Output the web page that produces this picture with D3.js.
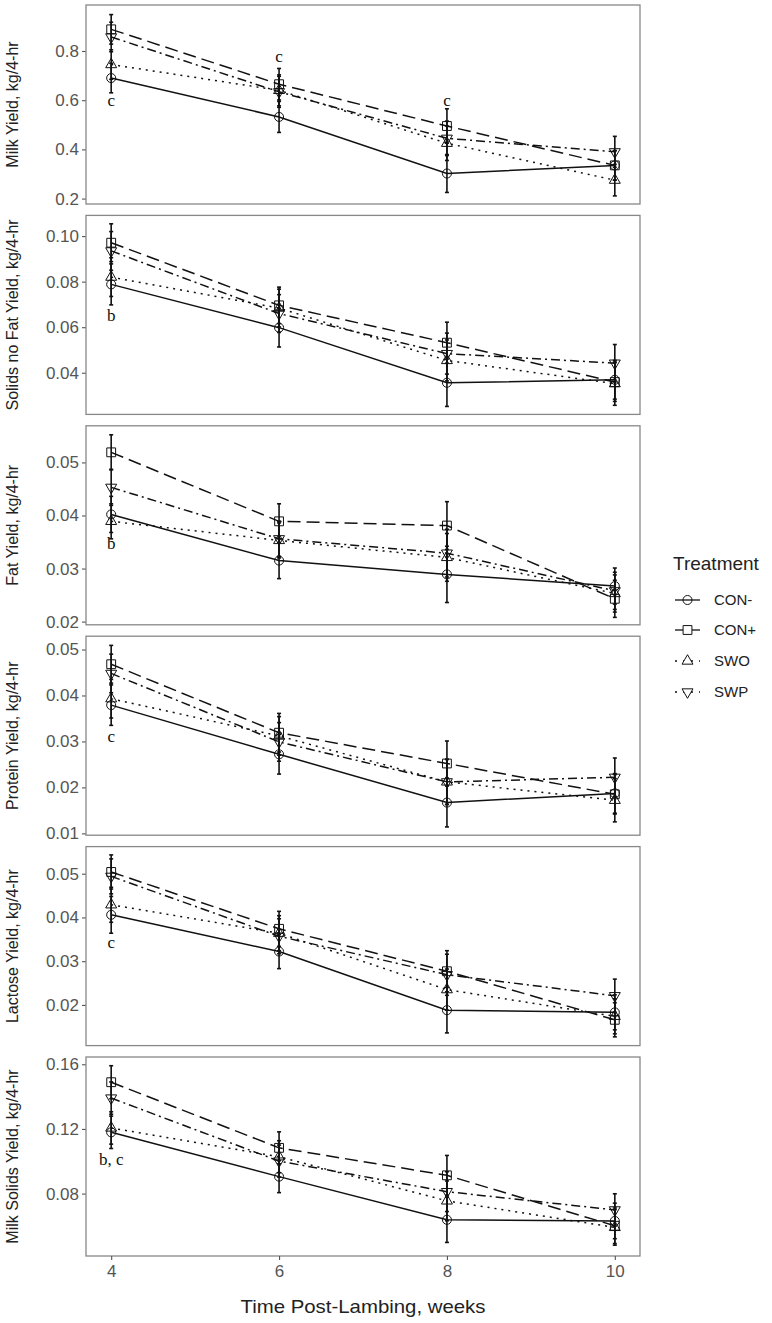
<!DOCTYPE html>
<html>
<head>
<meta charset="utf-8">
<script src="https://cdn.jsdelivr.net/npm/d3@7"></script>
<style>
  body { margin: 0; background: #fff; }
  svg { display: block; }
</style>
</head>
<body>
<div id="chart"></div>
<script>
var weeks = [4, 6, 8, 10];
var treatments = ["CON-", "CON+", "SWO", "SWP"];

// one row per treatment: CON-, CON+, SWO, SWP
var milkYield    = [[0.690, 0.532, 0.302, 0.335], [0.888, 0.665, 0.495, 0.335], [0.745, 0.640, 0.425, 0.275], [0.857, 0.634, 0.445, 0.390]];
var milkYieldSE  = [[0.060, 0.063, 0.077, 0.060], [0.060, 0.064, 0.070, 0.060], [0.060, 0.063, 0.070, 0.064], [0.060, 0.063, 0.070, 0.063]];
var snfYield     = [[0.0788, 0.0598, 0.0356, 0.0369], [0.0971, 0.0696, 0.0532, 0.0359], [0.0820, 0.0684, 0.0454, 0.0352], [0.0935, 0.0660, 0.0484, 0.0442]];
var snfYieldSE   = [[0.0090, 0.0085, 0.0104, 0.0085], [0.0083, 0.0080, 0.0090, 0.0085], [0.0085, 0.0083, 0.0090, 0.0095], [0.0085, 0.0083, 0.0090, 0.0082]];
var fatYield     = [[0.0402, 0.0315, 0.0289, 0.0267], [0.0519, 0.0389, 0.0381, 0.0243], [0.0389, 0.0353, 0.0321, 0.0253], [0.0453, 0.0356, 0.0329, 0.0258]];
var fatYieldSE   = [[0.0034, 0.0034, 0.0053, 0.0034], [0.0033, 0.0033, 0.0045, 0.0035], [0.0033, 0.0033, 0.0045, 0.0035], [0.0034, 0.0033, 0.0045, 0.0035]];
var proteinYield   = [[0.0379, 0.0272, 0.0167, 0.0187], [0.0468, 0.0319, 0.0252, 0.0185], [0.0393, 0.0312, 0.0212, 0.0172], [0.0448, 0.0299, 0.0212, 0.0222]];
var proteinYieldSE = [[0.0044, 0.0043, 0.0053, 0.0043], [0.0041, 0.0042, 0.0049, 0.0043], [0.0042, 0.0042, 0.0049, 0.0047], [0.0042, 0.0042, 0.0049, 0.0042]];
var lactoseYield   = [[0.0406, 0.0322, 0.0188, 0.0183], [0.0504, 0.0374, 0.0277, 0.0166], [0.0429, 0.0364, 0.0235, 0.0174], [0.0494, 0.0357, 0.0269, 0.0221]];
var lactoseYieldSE = [[0.0042, 0.0039, 0.0052, 0.0040], [0.0039, 0.0040, 0.0047, 0.0039], [0.0040, 0.0040, 0.0047, 0.0040], [0.0040, 0.0040, 0.0047, 0.0038]];
var solidsYield    = [[0.1179, 0.0905, 0.0638, 0.0631], [0.1489, 0.1083, 0.0913, 0.0601], [0.1206, 0.1028, 0.0755, 0.0591], [0.1391, 0.1001, 0.0812, 0.0699]];
var solidsYieldSE  = [[0.0100, 0.0099, 0.0140, 0.0110], [0.0102, 0.0099, 0.0123, 0.0110], [0.0100, 0.0099, 0.0123, 0.0110], [0.0100, 0.0099, 0.0123, 0.0100]];

var panelTitles = ["Milk Yield, kg/4-hr", "Solids no Fat Yield, kg/4-hr", "Fat Yield, kg/4-hr",
                   "Protein Yield, kg/4-hr", "Lactose Yield, kg/4-hr", "Milk Solids Yield, kg/4-hr"];
var panelMeans = [milkYield, snfYield, fatYield, proteinYield, lactoseYield, solidsYield];
var panelSE = [milkYieldSE, snfYieldSE, fatYieldSE, proteinYieldSE, lactoseYieldSE, solidsYieldSE];
var panelDomains = [[0.178, 0.987], [0.0217, 0.1091], [0.0194, 0.0569], [0.0096, 0.0529], [0.0107, 0.0562], [0.0414, 0.1645]];
var panelTicks = [[0.2, 0.4, 0.6, 0.8], [0.04, 0.06, 0.08, 0.10], [0.02, 0.03, 0.04, 0.05],
                  [0.01, 0.02, 0.03, 0.04, 0.05], [0.02, 0.03, 0.04, 0.05], [0.08, 0.12, 0.16]];
var panelTickFormat = [".1f", ".2f", ".2f", ".2f", ".2f", ".2f"];

// significance letters: panel index, week, y value, label
var letterPanel = [0, 0, 0, 1, 2, 3, 4, 5];
var letterWeek  = [4, 6, 8, 4, 4, 4, 4, 4];
var letterValue = [0.600, 0.779, 0.600, 0.0652, 0.0348, 0.0310, 0.0342, 0.1011];
var letterText  = ["c", "c", "c", "b", "b", "c", "c", "b, c"];

var W = 772, H = 1323;
var left = 86, right = 640, top0 = 5, panelH = 199, panelStep = 210.4;
var dashes = ["none", "13,6", "2,5", "9,4,2,4"];
var ink = "#111";

var svg = d3.select("#chart").append("svg")
  .attr("width", W).attr("height", H)
  .style("font-family", "'Liberation Sans', Arial, sans-serif");

var x = d3.scaleLinear().domain([3.7, 10.3]).range([left, right]);

function markerPath(i) {
  if (i == 0) return d3.symbol().type(d3.symbolCircle).size(64)();
  if (i == 1) return d3.symbol().type(d3.symbolSquare).size(78)();
  return d3.symbol().type(d3.symbolTriangle).size(52)();
}
function markerTransform(i, px, py) {
  return "translate(" + px + "," + py + ")" + (i == 3 ? " rotate(180)" : "");
}

panelTitles.forEach(function(title, p) {
  var top = top0 + p * panelStep;
  var y = d3.scaleLinear().domain(panelDomains[p]).range([top + panelH, top]);
  var g = svg.append("g");

  // y axis
  var yAxis = g.append("g")
    .attr("transform", "translate(" + left + ",0)")
    .call(d3.axisLeft(y).tickValues(panelTicks[p]).tickFormat(d3.format(panelTickFormat[p])).tickSize(4).tickPadding(3));
  yAxis.select(".domain").remove();
  yAxis.selectAll(".tick line").attr("stroke", "#555").attr("stroke-width", 1.1);
  yAxis.selectAll(".tick text").attr("fill", "#555").style("font-size", "17px");

  g.append("text")
    .attr("transform", "translate(18," + (top + panelH / 2) + ") rotate(-90)")
    .attr("text-anchor", "middle")
    .attr("fill", "#222")
    .style("font-size", "16px")
    .text(title);

  // lines
  treatments.forEach(function(t, i) {
    var pts = weeks.map(function(w, k) { return [w, panelMeans[p][i][k]]; });
    g.append("path")
      .datum(pts)
      .attr("fill", "none")
      .attr("stroke", ink)
      .attr("stroke-width", 1.5)
      .attr("stroke-dasharray", dashes[i])
      .attr("d", d3.line().x(function(d) { return x(d[0]); }).y(function(d) { return y(d[1]); }));
  });

  // error bars
  treatments.forEach(function(t, i) {
    weeks.forEach(function(w, k) {
      var m = panelMeans[p][i][k], se = panelSE[p][i][k];
      var px = x(w);
      var eb = g.append("g").attr("stroke", ink).attr("stroke-width", 1.6);
      eb.append("line").attr("x1", px).attr("x2", px).attr("y1", y(m - se)).attr("y2", y(m + se));
      eb.append("line").attr("x1", px - 2).attr("x2", px + 2).attr("y1", y(m - se)).attr("y2", y(m - se));
      eb.append("line").attr("x1", px - 2).attr("x2", px + 2).attr("y1", y(m + se)).attr("y2", y(m + se));
    });
  });

  // points
  treatments.forEach(function(t, i) {
    weeks.forEach(function(w, k) {
      g.append("path")
        .attr("d", markerPath(i))
        .attr("transform", markerTransform(i, x(w), y(panelMeans[p][i][k])))
        .attr("fill", "none")
        .attr("stroke", ink)
        .attr("stroke-width", 1);
    });
  });

  // letters
  letterPanel.forEach(function(lp, j) {
    if (lp != p) return;
    g.append("text")
      .attr("x", x(letterWeek[j]))
      .attr("y", y(letterValue[j]))
      .attr("dy", "0.32em")
      .attr("text-anchor", "middle")
      .attr("fill", ink)
      .style("font-family", "'Liberation Serif', 'Times New Roman', serif")
      .style("font-size", "17px")
      .text(letterText[j]);
  });

  // panel border
  g.append("rect")
    .attr("x", left).attr("y", top)
    .attr("width", right - left).attr("height", panelH)
    .attr("fill", "none")
    .attr("stroke", "#888")
    .attr("stroke-width", 1.3);

  // x axis on bottom panel only
  if (p == panelTitles.length - 1) {
    var xAxis = g.append("g")
      .attr("transform", "translate(0," + (top + panelH) + ")")
      .call(d3.axisBottom(x).tickValues(weeks).tickFormat(d3.format("d")).tickSize(4).tickPadding(5));
    xAxis.select(".domain").remove();
    xAxis.selectAll(".tick line").attr("stroke", "#555").attr("stroke-width", 1.1);
    xAxis.selectAll(".tick text").attr("fill", "#555").style("font-size", "17px");

    g.append("text")
      .attr("x", (left + right) / 2)
      .attr("y", top + panelH + 57)
      .attr("text-anchor", "middle")
      .attr("fill", "#222")
      .style("font-size", "19px")
      .attr("textLength", 245)
      .attr("lengthAdjust", "spacingAndGlyphs")
      .text("Time Post-Lambing, weeks");
  }
});

// legend
var legend = svg.append("g").attr("transform", "translate(673,0)");
legend.append("text")
  .attr("x", 0).attr("y", 570)
  .attr("fill", "#222")
  .style("font-size", "19px")
  .text("Treatment");

var legendY = [600, 630, 661, 692];
treatments.forEach(function(t, i) {
  var row = legend.append("g").attr("transform", "translate(0," + legendY[i] + ")");
  row.append("line")
    .attr("x1", 2).attr("x2", 27).attr("y1", 0).attr("y2", 0)
    .attr("stroke", ink).attr("stroke-width", 1.3)
    .attr("stroke-dasharray", i < 2 ? "none" : "2,6");
  row.append("path")
    .attr("d", markerPath(i))
    .attr("transform", markerTransform(i, 14.5, 0))
    .attr("fill", i == 0 ? "none" : "#fff")
    .attr("stroke", ink)
    .attr("stroke-width", 1);
  row.append("text")
    .attr("x", 41).attr("y", 0).attr("dy", "0.35em")
    .attr("fill", "#222")
    .style("font-size", "15px")
    .text(t);
});
</script>
</body>
</html>
